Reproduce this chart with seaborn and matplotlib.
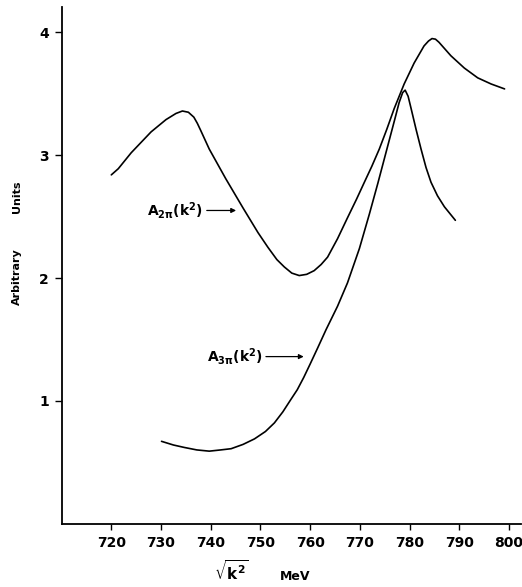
import numpy as np
import pandas as pd
import matplotlib
matplotlib.use('Agg')
import matplotlib.pyplot as plt
import seaborn as sns

# values (sqrt(k^2) in MeV, arbitrary units)
a2_x = [720.0, 721.4, 724.0, 728.0, 731.0, 733.0, 734.3, 735.5, 736.6, 737.3,
        738.0, 739.7, 743.0, 746.5, 749.5, 751.5, 753.3, 754.8, 756.3, 757.8,
        759.3, 760.8, 762.2, 763.5, 765.5, 767.5, 769.3, 770.9, 772.4, 773.9,
        775.4, 776.9, 778.9, 780.9, 782.9, 783.8, 784.5, 785.2, 785.9, 788.3,
        791.0, 793.7, 796.4, 799.1]
a2_y = [2.84, 2.89, 3.02, 3.19, 3.29, 3.34, 3.36, 3.35, 3.31, 3.26,
        3.20, 3.05, 2.81, 2.57, 2.37, 2.25, 2.15, 2.09, 2.04, 2.02,
        2.03, 2.06, 2.11, 2.17, 2.32, 2.49, 2.64, 2.78, 2.91, 3.05,
        3.21, 3.38, 3.58, 3.75, 3.89, 3.93, 3.95, 3.945, 3.92, 3.81,
        3.71, 3.63, 3.58, 3.54]

a3_x = [730.1, 732.5, 734.7, 737.2, 739.7, 742.0, 744.1, 746.5, 748.8, 751.0,
        752.8, 754.5, 756.1, 757.4, 758.7, 760.0, 761.5, 763.2, 765.5, 767.5,
        769.9, 771.9, 773.6, 775.3, 777.0, 777.9, 778.6, 779.1, 779.7, 780.3,
        781.3, 782.3, 783.3, 784.3, 785.6, 787.0, 789.2]
a3_y = [0.67, 0.64, 0.62, 0.60, 0.59, 0.60, 0.61, 0.645, 0.69, 0.75,
        0.82, 0.91, 1.01, 1.09, 1.19, 1.30, 1.43, 1.58, 1.77, 1.96,
        2.24, 2.52, 2.77, 3.03, 3.29, 3.43, 3.51, 3.53, 3.48, 3.38,
        3.21, 3.05, 2.90, 2.78, 2.67, 2.58, 2.47]

x_ticks = [720, 730, 740, 750, 760, 770, 780, 790, 800]
y_ticks = [1, 2, 3, 4]

sns.set_style('ticks')
plt.rcParams['font.family'] = ['DejaVu Sans']
plt.rcParams['mathtext.default'] = 'bf'
plt.rcParams['text.color'] = 'black'
plt.rcParams['xtick.color'] = 'black'
plt.rcParams['ytick.color'] = 'black'

fig = plt.figure(figsize=(5.22, 5.87), dpi=100)
ax = fig.add_axes([0.118, 0.108, 0.881, 0.8807])

df2 = pd.DataFrame({'x': a2_x, 'y': a2_y})
df3 = pd.DataFrame({'x': a3_x, 'y': a3_y})
sns.lineplot(data=df2, x='x', y='y', sort=False, estimator=None, color='black', lw=1.2, ax=ax)
sns.lineplot(data=df3, x='x', y='y', sort=False, estimator=None, color='black', lw=1.2, ax=ax)

ax.set_xlim(710, 802.5)
ax.set_ylim(0, 4.21)
ax.set_xticks(x_ticks)
ax.set_yticks(y_ticks)
ax.set_xticklabels([str(t) for t in x_ticks], fontsize=10, fontweight='bold', color='black')
ax.set_yticklabels([str(t) for t in y_ticks], fontsize=10, fontweight='bold', color='black')
ax.tick_params(axis='x', direction='out', length=4, width=1, pad=5)
ax.tick_params(axis='y', direction='out', length=5, width=1, pad=4)
ax.set_xlabel('')
ax.set_ylabel('')
sns.despine(ax=ax)
for s in ['left', 'bottom']:
    ax.spines[s].set_linewidth(1.3)
    ax.spines[s].set_color('black')

# curve labels with arrows
ax.text(738.4, 2.55, r'$A_{2\pi}(k^2)$', ha='right', va='center', fontsize=10, color='black')
ax.annotate('', xy=(745.1, 2.55), xytext=(739.2, 2.55),
            arrowprops=dict(arrowstyle='-|>', color='black', lw=0.9,
                            mutation_scale=7, shrinkA=0, shrinkB=0))
ax.text(750.5, 1.36, r'$A_{3\pi}(k^2)$', ha='right', va='center', fontsize=10, color='black')
ax.annotate('', xy=(758.7, 1.36), xytext=(751.1, 1.36),
            arrowprops=dict(arrowstyle='-|>', color='black', lw=0.9,
                            mutation_scale=7, shrinkA=0, shrinkB=0))

# axis titles
fig.text(17 / 522, 1 - 277 / 587, 'Arbitrary', rotation=90, ha='center', va='center',
         fontsize=8, fontweight='bold', color='black')
fig.text(17 / 522, 1 - 197 / 587, 'Units', rotation=90, ha='center', va='center',
         fontsize=8, fontweight='bold', color='black')
fig.text(231 / 522, 1 - 571 / 587, r'$\sqrt{k^2}$', ha='center', va='center',
         fontsize=11, color='black')
fig.text(295 / 522, 1 - 577 / 587, 'MeV', ha='center', va='center',
         fontsize=9, fontweight='bold', color='black')

fig.savefig('out.png', dpi=100)
